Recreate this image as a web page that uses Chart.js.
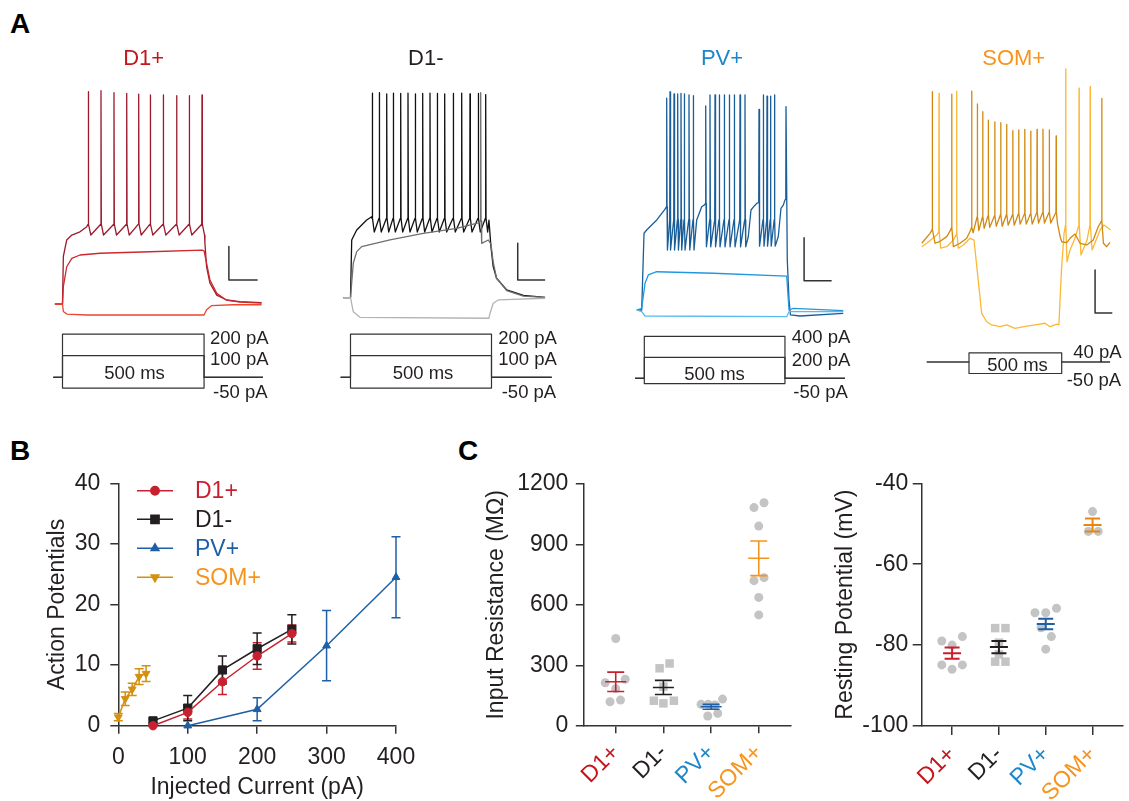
<!DOCTYPE html>
<html>
<head>
<meta charset="utf-8">
<script src="https://cdn.jsdelivr.net/npm/chart.js@4.4.1/dist/chart.umd.min.js"></script>
<style>
  html, body { margin: 0; padding: 0; background: #fff; }
  #fig { position: relative; width: 1129px; height: 801px; overflow: hidden;
         font-family: 'Liberation Sans', Arial, Helvetica, sans-serif; color: #231f20; }
  #fig canvas { position: absolute; }
  .t { position: absolute; white-space: nowrap; line-height: 1; transform: translateY(-50%); }
  .c { transform: translate(-50%, -50%); }
  .panel { font-weight: bold; font-size: 28px; color: #000; }
  .title { font-size: 22px; }
  .prot { font-size: 18.5px; }
</style>
</head>
<body>
<div id="fig">
  <canvas id="trD1p" width="235" height="340" style="left:45px;top:60px"></canvas>
  <canvas id="trD1n" width="235" height="340" style="left:330px;top:60px"></canvas>
  <canvas id="trPV" width="230" height="340" style="left:625px;top:60px"></canvas>
  <canvas id="trSOM" width="205" height="340" style="left:915px;top:60px"></canvas>
  <canvas id="chartB" width="420" height="331" style="left:0px;top:470px"></canvas>
  <canvas id="chartIR" width="330" height="331" style="left:470px;top:470px"></canvas>
  <canvas id="chartRP" width="349" height="331" style="left:780px;top:470px"></canvas>

  <div class="t panel" style="left:10px;top:23.5px">A</div>
  <div class="t panel" style="left:10px;top:451px">B</div>
  <div class="t panel" style="left:458px;top:451px">C</div>

  <div class="t c title" style="left:143.7px;top:57.5px;color:#c4161c">D1+</div>
  <div class="t c title" style="left:425.8px;top:57.5px;color:#231f20">D1-</div>
  <div class="t c title" style="left:722px;top:57.5px;color:#1b87c9">PV+</div>
  <div class="t c title" style="left:1013.7px;top:57.5px;color:#f7941d">SOM+</div>

  <div class="t prot" style="left:210px;top:337.5px">200 pA</div>
  <div class="t prot" style="left:210px;top:359px">100 pA</div>
  <div class="t c prot" style="left:134.5px;top:373.3px">500 ms</div>
  <div class="t prot" style="left:213px;top:391.5px">-50 pA</div>

  <div class="t prot" style="left:498.3px;top:337.5px">200 pA</div>
  <div class="t prot" style="left:498.3px;top:359px">100 pA</div>
  <div class="t c prot" style="left:423px;top:373.3px">500 ms</div>
  <div class="t prot" style="left:501.7px;top:391.5px">-50 pA</div>

  <div class="t prot" style="left:791.7px;top:336.7px">400 pA</div>
  <div class="t prot" style="left:791.7px;top:360px">200 pA</div>
  <div class="t c prot" style="left:714.5px;top:374px">500 ms</div>
  <div class="t prot" style="left:793.3px;top:391.7px">-50 pA</div>

  <div class="t prot" style="left:1073.3px;top:351.7px">40 pA</div>
  <div class="t c prot" style="left:1017.5px;top:365px">500 ms</div>
  <div class="t prot" style="left:1066.7px;top:380px">-50 pA</div>
</div>
<script>
// Panel A: example traces, [time in ms from step onset, membrane potential in mV]
var d1pSpikeTimes = [91.5, 136.5, 182.6, 227.7, 270.2, 311.3, 357.4, 404.6, 449.6, 494.7];
var d1pSpikePeaks = [31.7, 32.3, 31.2, 30.9, 30.5, 30, 30, 29.6, 29.6, 30];
var d1pTopStart = [[-27, -80], [0, -80], [3, -55], [15, -46.3], [33, -43.7], [62, -42], [86, -39.3]];
var d1pTopEnd = [[505, -48], [511, -60.4], [523, -69.1], [547, -75.3], [582, -77.9], [629, -78.8], [706, -79.3]];
var d1pSub = [[-27, -80], [0, -80], [3, -70.9], [15, -60.4], [33, -56], [62, -54.2], [133, -53.3], [310, -52.5],
  [495, -51.6], [502, -52], [511, -58.6], [523, -67.4], [547, -74.4], [582, -78], [629, -79], [706, -79.5]];
var d1pHyp = [[-27, -80], [0, -80], [3, -83.9], [15, -85.3], [86, -85.8], [502, -85.8], [511, -83], [528, -80.9],
  [605, -80.4], [706, -80.4]];
var d1pScaleBar = [[590, -49.8], [590, -67.4], [692, -67.4]];
var d1pSteps = [-50, 100, 200];
var d1pStepTimes = [-32.6, 0, 502, 711];

var d1nSpikeTimes = [77.3, 102.1, 128.4, 151.8, 178, 203.9, 229.8, 256, 281.9, 307.8, 334, 364.5, 394.3, 423.8, 453.2, 479.4];
var d1nSpikePeaks = [30.6, 30.8, 30.2, 30.6, 30.4, 30.6, 30.2, 30.4, 30.6, 30.4, 30.2, 30.4, 30.6, 30.2, 30.4, 29.8];
var d1nTopStart = [[-25.5, -80], [0, -80], [4.3, -48.8], [22, -43.4], [57.4, -38], [75.2, -36.2]];
var d1nTopEnd = [[491, -38.1], [498, -52.4], [506, -63.2], [518, -69.5], [554, -75.8], [613, -78.7], [690, -79.8]];
var d1nSub = [[-25.5, -80], [0, -80], [9.9, -61.4], [22, -55.1], [39.7, -52.4], [140, -48.8], [258, -45.2],
  [376.6, -42.5], [453.2, -39.5], [460.7, -38.5], [461.7, 30.8], [462.9, -38.5], [465.2, -50.6], [488.7, -48.8],
  [498, -51], [506, -60.7], [518, -69.5], [554, -76.2], [613, -79.1], [690, -79.8]];
var d1nHyp = [[-25.5, -80], [0, -80], [9.9, -87.6], [33.7, -90.6], [491, -91.1], [494.7, -88.4], [506, -83],
  [524, -81.2], [690, -80.3]];
var d1nScaleBar = [[593, -50.6], [593, -70.4], [690, -70.4]];
var d1nSteps = [-50, 100, 200];
var d1nStepTimes = [-34.8, 0, 500, 713.5];

var pvBurst1Times = [86.2, 97.6, 111.4, 124.1, 135.5, 146.9, 163.1, 177.9];
var pvBurst1Peaks = [18.5, 21.5, 20.5, 20.5, 20.8, 20.5, 20, 19.7];
var pvBurst2Times = [220.7, 235.5, 252.8, 267.6, 284.8, 302.1, 319.3, 339, 356.2];
var pvBurst2Peaks = [14.9, 20, 20, 20, 20, 20, 20, 20, 20];
var pvBurst3Times = [404.5, 419.3, 432.1, 444.1, 457.9];
var pvBurst3Peaks = [13.3, 20, 19.5, 19.5, 20];
var pvTopStart = [[-17, -80], [0, -80], [8, -44.3], [17, -42.8], [52, -38.1], [80, -33.2]];
var pvGap1 = [[189.7, -38.1], [206.9, -32], [215.9, -31.2]];
var pvGap2 = [[367.6, -45.8], [376.9, -33.5], [388.3, -31.6], [396.6, -30.4]];
var pvGap3 = [[471, -45.8], [480.3, -32.7], [488.3, -31.2], [494.1, -28.8]];
var pvTopEnd = [[496.8, -28.5], [497.6, 14.6], [502, -56.7], [508, -75.3], [513, -82.3], [546, -82.8], [695, -81.6]];
var pvSub = [[-17, -80], [0, -79.2], [11.4, -67.6], [22.8, -63.7], [51.7, -62.2], [247, -62.9], [500, -64.2],
  [508, -80], [523, -79.2], [695, -80.3]];
var pvHyp = [[-17, -80], [0, -80.8], [11.4, -82.8], [500, -83.1], [508, -80.8], [695, -80.8]];
var pvScaleBar = [[560, -46.4], [560, -66.4], [655, -66.4]];
var pvSteps = [-50, 200, 400];
var pvStepTimes = [-23, 9, 494, 701];

var somSpikeTimes = [14.4, 45, 74, 104, 139, 171, 203, 236, 268, 301, 333, 367, 399, 433, 470];
var somSpikePeaks = [12.4, 6.4, 2.8, -1.1, -1.9, -2.3, -3.1, -6, -5.7, -5.4, -6.2, -5.4, -5.3, -5.7, -8.5];
var somThresholds = [-51, -46, -46, -45.5, -45.5, -45, -45, -45, -44.5, -44.5, -44.5, -44, -44, -44, -44];
var somTroughs = [-53.5, -52.5, -51.5, -51, -50.5, -50.5, -50, -50, -49.5, -49.5, -49.5, -49, -49, -49, -49.5];
var somDarkStart = [[-255, -58.4], [-210, -53.8], [-199, -52], [-198, 12.1], [-196.8, -52], [-183, -58.4],
  [-156, -57.5], [-120, -55.3], [-99, -52.2], [-94.3, -51], [-93.3, 11], [-92.1, -51], [-84.5, -60],
  [-48.5, -58.4], [-12.5, -56.1], [9, -52.2]];
var somDarkEnd = [[491.5, -55.3], [500, -57.7], [527, -58.1], [545, -56.1], [572, -54.1], [599, -58.4], [635, -59.2],
  [670, -56.9], [697, -50.7], [715, -48], [716, 9], [717.2, -48], [725, -58.4], [743, -60], [760.5, -58]];
var somLight = [[-255, -60], [-228, -58.4], [-174, -54.6], [-163, -53], [-161.8, 11.3], [-160.6, -53], [-153, -60.7],
  [-120, -60], [-84.5, -56.9], [-70, -54.6], [-67.3, -53], [-66.3, 12.4], [-65.1, -53], [-57.5, -60.7],
  [-30.6, -59.2], [5.4, -56.1], [27, -56.9], [68.5, -91], [95.5, -94.9], [122.5, -96.4], [167, -97.2],
  [203.5, -96.4], [248, -98], [311, -96.9], [374, -96.1], [410, -95.6], [437, -97.2], [473, -96], [485, -96.4],
  [491, -84.8], [500, -69.3], [512.6, -53.8], [520.6, -50], [521.6, 22.7], [522.8, -50], [528.6, -67],
  [545, -61.5], [572, -56], [592.6, -50], [593.6, 13.7], [594.8, -50], [604, -63.9], [636.5, -56.9],
  [652.3, -50], [653.3, 14.4], [654.5, -50], [664, -61.5], [707, -52.2], [728, -49.9], [764, -52.2]];
var somScaleBar = [[680, -70.8], [680, -90.8], [773, -90.8]];
var somSteps = [-50, 40];
var somStepTimes = [-228, 0, 500, 761];

// Panel B: action potentials vs injected current (mean, SEM)
var currentD1p = [50, 100, 150, 200, 250];
var apD1p = [0, 2.2, 7.25, 11.5, 15.2];
var semD1p = [0, 1.1, 2.1, 2.2, 1.4];
var currentD1n = [50, 100, 150, 200, 250];
var apD1n = [0.8, 2.9, 9.2, 12.7, 15.9];
var semD1n = [0.3, 2.1, 2.3, 2.6, 2.4];
var currentPV = [100, 200, 300, 400];
var apPV = [0, 2.7, 13.2, 24.5];
var semPV = [0, 1.9, 5.8, 6.7];
var currentSOM = [0, 10, 20, 30, 40];
var apSOM = [1.4, 4.45, 6.0, 8.1, 8.6];
var semSOM = [0.6, 1.1, 1.0, 1.3, 1.3];

// Panel C: single cells, jitter in category units
var groups = ['D1+', 'D1-', 'PV+', 'SOM+'];
var irD1p = [433, 213, 230, 184, 119, 127];
var irD1pJitter = [0, -0.22, 0.2, 0, -0.12, 0.1];
var irD1n = [285, 309, 194, 124, 124, 111];
var irD1nJitter = [-0.08, 0.13, 0, -0.2, 0.22, 0];
var irPV = [106, 106, 103, 132, 48, 61];
var irPVJitter = [-0.21, -0.06, 0.08, 0.24, -0.07, 0.14];
var irSOM = [1083, 1107, 991, 720, 735, 637, 550];
var irSOMJitter = [-0.1, 0.11, 0, -0.1, 0.11, 0, 0];
var irMean = [218, 190, 94, 831];
var irSem = [48, 35, 12, 86];

var rpD1p = [-79, -77.9, -80, -84.9, -86, -84.9];
var rpD1pJitter = [-0.22, 0.22, 0, -0.22, 0, 0.22];
var rpD1n = [-75.8, -75.8, -79.4, -82.3, -84.1, -84.1];
var rpD1nJitter = [-0.08, 0.14, 0, 0, -0.08, 0.14];
var rpPV = [-72, -72, -70.9, -75.7, -77.9, -81];
var rpPVJitter = [-0.23, 0, 0.23, -0.1, 0.12, 0];
var rpSOM = [-47, -51.9, -51.9];
var rpSOMJitter = [0, -0.09, 0.12];
var rpMean = [-82, -80.5, -74.8, -50.3];
var rpSem = [1.4, 1.5, 1.3, 1.6];

var RED = '#c8202f';
var BLACK = '#231f20';
var BLUE = '#1f5fa6';
var GOLD = '#d4900f';
var ORANGE = '#f7941d';
var AXIS = '#333333';
var GRAY_DOT = '#c4c4c4';
var FONT = "'Liberation Sans', Arial, Helvetica, sans-serif";

Chart.defaults.font.family = FONT;
Chart.defaults.color = BLACK;

function pick(v, i) {
  return Array.isArray(v) ? v[i] : v;
}

// a run of spikes: threshold, peak, repolarisation, after-hyperpolarisation trough
function spikeRun(times, peaks, thr, trough, ahp) {
  var out = [];
  times.forEach(function (t, i) {
    out.push([t - 1, pick(thr, i)], [t, peaks[i]], [t + 1.2, pick(thr, i)], [t + ahp, pick(trough, i)]);
  });
  return out;
}

// current step command: rest -> level -> rest
function stepTrace(level, tt) {
  return [[tt[0], 0], [tt[1], 0], [tt[1], level], [tt[2], level], [tt[2], 0], [tt[3], 0]];
}

function toXY(arr) {
  return arr.map(function (p) {
    return { x: p[0], y: p[1] };
  });
}

// value range of an invisible axis, from two calibration points (value, page px)
function axisRange(v0, p0, v1, p1, pa, pb) {
  var k = (v1 - v0) / (p1 - p0);
  var a = v0 + (pa - p0) * k;
  var b = v0 + (pb - p0) * k;
  return { min: Math.min(a, b), max: Math.max(a, b) };
}

function traceChart(id, cal, traces, steps, stepTimes, scaleBar) {
  var el = document.getElementById(id);
  var left = parseFloat(el.style.left);
  var top = parseFloat(el.style.top);
  var xr = axisRange(cal.t[0], cal.t[1], cal.t[2], cal.t[3], left, left + el.width);
  var yr = axisRange(cal.v[0], cal.v[1], cal.v[2], cal.v[3], top, top + el.height);
  var ir = axisRange(cal.i[0], cal.i[1], cal.i[2], cal.i[3], top, top + el.height);

  var datasets = traces.map(function (tr) {
    return { data: toXY(tr.data), borderColor: tr.color, borderWidth: 1.3, pointRadius: 0, yAxisID: 'y' };
  });
  steps.forEach(function (level) {
    datasets.push({ data: toXY(stepTrace(level, stepTimes)), borderColor: AXIS, borderWidth: 1.2,
      pointRadius: 0, yAxisID: 'yI' });
  });
  datasets.push({ data: toXY(scaleBar), borderColor: AXIS, borderWidth: 1.5, pointRadius: 0, yAxisID: 'y' });

  // eslint-disable-next-line no-new
  new Chart(el, {
    type: 'line',
    data: { datasets: datasets },
    options: {
      responsive: false,
      animation: false,
      events: [],
      layout: { padding: 0 },
      elements: { line: { tension: 0, borderJoinStyle: 'round' } },
      plugins: { legend: { display: false }, tooltip: { enabled: false } },
      scales: {
        x: { type: 'linear', display: false, min: xr.min, max: xr.max },
        y: { display: false, min: yr.min, max: yr.max },
        yI: { display: false, min: ir.min, max: ir.max },
      },
    },
  });
}

traceChart('trD1p', { t: [0, 62.5, 500, 203.5], v: [-80, 304, -60, 266], i: [0, 377.3, 100, 355.7] }, [
  { data: d1pHyp, color: '#ea4630' },
  { data: d1pSub, color: '#cc2a2c' },
  { data: d1pTopStart.concat(spikeRun(d1pSpikeTimes, d1pSpikePeaks, -38, -43.7, 9), d1pTopEnd), color: '#9c1a2e' },
], d1pSteps, d1pStepTimes, d1pScaleBar);

traceChart('trD1n', { t: [0, 350.5, 500, 491.5], v: [-80, 297.7, -60, 260.7], i: [0, 377.3, 100, 355.7] }, [
  { data: d1nHyp, color: '#b3b3b3' },
  { data: d1nSub, color: '#6f6f6f' },
  { data: d1nTopStart.concat(spikeRun(d1nSpikeTimes, d1nSpikePeaks, -37.1, -44.5, 7), d1nTopEnd), color: '#111111' },
], d1nSteps, d1nStepTimes, d1nScaleBar);

traceChart('trPV', { t: [0, 641.7, 500, 786.7], v: [-80, 310, -60, 267], i: [0, 378.3, 400, 336.3] }, [
  { data: pvHyp, color: '#5ab9ee' },
  { data: pvSub, color: '#1f98df' },
  {
    data: pvTopStart.concat(
      spikeRun(pvBurst1Times, pvBurst1Peaks, [-32, -38, -38, -38, -38, -38, -38, -38], -52.1, 2.5),
      pvGap1,
      spikeRun(pvBurst2Times, pvBurst2Peaks, [-30.5, -38, -38, -38, -38, -38, -38, -38, -38], -50.6, 2.5),
      pvGap2,
      spikeRun(pvBurst3Times, pvBurst3Peaks, [-30, -38, -38, -38, -38], -50.3, 2.5),
      pvGap3,
      pvTopEnd
    ),
    color: '#1a5e99',
  },
], pvSteps, pvStepTimes, pvScaleBar);

traceChart('trSOM', { t: [0, 969, 500, 1061.7], v: [-60, 246.7, -40, 203.7], i: [40, 352.8, -50, 373.5] }, [
  { data: somDarkStart.concat(spikeRun(somSpikeTimes, somSpikePeaks, somThresholds, somTroughs, 8), somDarkEnd),
    color: '#d1890f' },
  { data: somLight, color: '#fbb836' },
], somSteps, somStepTimes, somScaleBar);

// error bars drawn through the chart's own scales
var errorBars = {
  id: 'errorBars',
  beforeDatasetsDraw: function (chart) {
    var ctx = chart.ctx;
    var xs = chart.scales.x;
    var ys = chart.scales.y;
    chart.data.datasets.forEach(function (ds) {
      if (!ds.errors) return;
      ctx.save();
      ctx.strokeStyle = ds.borderColor;
      ctx.lineWidth = 1.5;
      ds.data.forEach(function (pt, i) {
        var e = ds.errors[i];
        if (!e) return;
        var x = xs.getPixelForValue(pt.x);
        var y1 = ys.getPixelForValue(pt.y - e);
        var y2 = ys.getPixelForValue(pt.y + e);
        ctx.beginPath();
        ctx.moveTo(x, y1);
        ctx.lineTo(x, y2);
        ctx.moveTo(x - 4.5, y1);
        ctx.lineTo(x + 4.5, y1);
        ctx.moveTo(x - 4.5, y2);
        ctx.lineTo(x + 4.5, y2);
        ctx.stroke();
      });
      ctx.restore();
    });
  },
};

// line + marker legend, as in the original figure
var lineLegend = {
  id: 'lineLegend',
  afterDraw: function (chart, args, o) {
    var ctx = chart.ctx;
    chart.data.datasets.forEach(function (ds, i) {
      var y = o.rows[i];
      ctx.save();
      ctx.strokeStyle = ds.borderColor;
      ctx.fillStyle = ds.borderColor;
      ctx.lineWidth = 1.5;
      ctx.beginPath();
      ctx.moveTo(o.lineX[0], y);
      ctx.lineTo(o.lineX[1], y);
      ctx.stroke();
      Chart.helpers.drawPoint(ctx, { pointStyle: ds.pointStyle, rotation: ds.pointRotation || 0,
        radius: ds.pointRadius, borderWidth: 1 }, (o.lineX[0] + o.lineX[1]) / 2, y);
      ctx.fillStyle = o.textColors[i];
      ctx.font = '23px ' + FONT;
      ctx.textBaseline = 'middle';
      ctx.textAlign = 'left';
      ctx.fillText(ds.label, o.textX, y + 1);
      ctx.restore();
    });
  },
};

function curve(label, xs, ys, errs, color, style, radius, rotation) {
  return {
    label: label,
    data: xs.map(function (x, i) {
      return { x: x, y: ys[i] };
    }),
    errors: errs,
    borderColor: color,
    backgroundColor: color,
    borderWidth: 1.5,
    pointStyle: style,
    pointRadius: radius,
    pointRotation: rotation || 0,
    pointBorderWidth: 1,
    clip: false,
  };
}

function axisOpts(extra) {
  return Object.assign({
    grid: { drawOnChartArea: false, drawTicks: true, color: AXIS, lineWidth: 1.5 },
    border: { display: true, color: AXIS, width: 1.5 },
  }, extra);
}

// fixed axis boxes: no automatic room for half-labels at the axis ends
function fixHeight(h) {
  return function (s) {
    s.height = h;
    s.paddingLeft = 0;
    s.paddingRight = 0;
  };
}
function fixWidth(w) {
  return function (s) {
    s.width = w;
    s.paddingTop = 0;
    s.paddingBottom = 0;
  };
}
function plainNumber(v) {
  return String(v);
}

// eslint-disable-next-line no-new
new Chart(document.getElementById('chartB'), {
  type: 'line',
  data: {
    datasets: [
      curve('D1+', currentD1p, apD1p, semD1p, RED, 'circle', 4.2),
      curve('D1-', currentD1n, apD1n, semD1n, BLACK, 'rect', 5.8),
      curve('PV+', currentPV, apPV, semPV, BLUE, 'triangle', 4.5),
      curve('SOM+', currentSOM, apSOM, semSOM, GOLD, 'triangle', 4.5, 180),
    ],
  },
  plugins: [errorBars, lineLegend],
  options: {
    responsive: false,
    animation: false,
    events: [],
    layout: { padding: { top: 13.3, right: 24, left: 0, bottom: 0 } },
    plugins: {
      legend: { display: false },
      tooltip: { enabled: false },
      lineLegend: { rows: [20.7, 49.3, 78.3, 107.3], lineX: [137, 173], textX: 195,
        textColors: [RED, BLACK, BLUE, ORANGE] },
    },
    scales: {
      x: axisOpts({
        type: 'linear', min: 0, max: 400,
        afterFit: fixHeight(75.3),
        ticks: { stepSize: 100, maxRotation: 0, padding: 10, color: BLACK, font: { size: 23 }, callback: plainNumber },
        grid: { drawOnChartArea: false, color: AXIS, lineWidth: 1.5, tickLength: 8 },
        title: { display: true, text: 'Injected Current (pA)', color: BLACK, font: { size: 23 },
          padding: { top: 0, bottom: 0 } },
      }),
      y: axisOpts({
        min: 0, max: 40,
        afterFit: fixWidth(118.3),
        ticks: { stepSize: 10, padding: 10, color: BLACK, font: { size: 23 }, callback: plainNumber },
        grid: { drawOnChartArea: false, color: AXIS, lineWidth: 1.5, tickLength: 8 },
        title: { display: true, text: 'Action Potentials', color: BLACK, font: { size: 23 },
          padding: { top: 44, bottom: 0 } },
      }),
    },
  },
});

// group mean +/- SEM
var meanSem = {
  id: 'meanSem',
  afterDatasetsDraw: function (chart, args, o) {
    var ctx = chart.ctx;
    var xs = chart.scales.x;
    var ys = chart.scales.y;
    o.means.forEach(function (m, i) {
      var x = xs.getPixelForValue(i + 1);
      var yM = ys.getPixelForValue(m);
      var yT = ys.getPixelForValue(m + o.sems[i]);
      var yB = ys.getPixelForValue(m - o.sems[i]);
      ctx.save();
      ctx.strokeStyle = o.colors[i];
      ctx.lineWidth = o.lineWidth;
      ctx.beginPath();
      ctx.moveTo(x - o.meanHalf, yM);
      ctx.lineTo(x + o.meanHalf, yM);
      ctx.moveTo(x, yT);
      ctx.lineTo(x, yB);
      ctx.moveTo(x - o.capHalf, yT);
      ctx.lineTo(x + o.capHalf, yT);
      ctx.moveTo(x - o.capHalf, yB);
      ctx.lineTo(x + o.capHalf, yB);
      ctx.stroke();
      ctx.restore();
    });
  },
};

var labelColors = ['#c4161c', BLACK, '#1b87c9', ORANGE];

function cells(values, jitter, idx, style) {
  return {
    data: values.map(function (v, i) {
      return { x: idx + jitter[i], y: v };
    }),
    backgroundColor: GRAY_DOT,
    borderColor: GRAY_DOT,
    pointStyle: style,
    pointRadius: style === 'rect' ? 6 : 4.5,
    pointBorderWidth: 0,
    clip: false,
  };
}

function dotChart(id, sets, yOpts, geom, stats) {
  // eslint-disable-next-line no-new
  new Chart(document.getElementById(id), {
    type: 'scatter',
    data: { datasets: sets },
    plugins: [meanSem],
    options: {
      responsive: false,
      animation: false,
      events: [],
      layout: { padding: { top: geom.top, right: geom.right, left: 0, bottom: 0 } },
      plugins: { legend: { display: false }, tooltip: { enabled: false }, meanSem: stats },
      scales: {
        x: axisOpts({
          type: 'linear', min: geom.xMin, max: geom.xMax,
          afterFit: fixHeight(geom.xHeight),
          afterBuildTicks: function (s) {
            s.ticks = groups.map(function (g, i) { return { value: i + 1 }; });
          },
          ticks: {
            autoSkip: false, minRotation: 45, maxRotation: 45, padding: geom.xPad,
            font: { size: 23 },
            color: function (c) { return labelColors[c.index]; },
            callback: function (v, i) { return groups[i]; },
          },
          grid: { drawOnChartArea: false, color: AXIS, lineWidth: 1.5, tickLength: geom.tick },
        }),
        y: axisOpts({
          min: yOpts.min, max: yOpts.max,
          afterFit: fixWidth(geom.yWidth),
          ticks: { stepSize: yOpts.step, padding: geom.yPad, color: BLACK, font: { size: 23 }, callback: plainNumber },
          grid: { drawOnChartArea: false, color: AXIS, lineWidth: 1.5, tickLength: geom.tick },
          title: { display: true, text: yOpts.title, color: BLACK, font: { size: 23 },
            padding: { top: geom.titlePad, bottom: 0 } },
        }),
      },
    },
  });
}

dotChart('chartIR', [
  cells(irD1p, irD1pJitter, 1, 'circle'),
  cells(irD1n, irD1nJitter, 2, 'rect'),
  cells(irPV, irPVJitter, 3, 'circle'),
  cells(irSOM, irSOMJitter, 4, 'circle'),
], { min: 0, max: 1200, step: 300, title: 'Input Resistance (M\u03A9)' },
{ top: 14, right: 9.3, yWidth: 113.3, xHeight: 75.3, xMin: 0.32, xMax: 4.67, tick: 7.5, yPad: 7.5, xPad: 6,
  titlePad: 13 },
{ means: irMean, sems: irSem, colors: [RED, BLACK, BLUE, ORANGE], meanHalf: 10.5, capHalf: 8.5, lineWidth: 1.6 });

dotChart('chartRP', [
  cells(rpD1p, rpD1pJitter, 1, 'circle'),
  cells(rpD1n, rpD1nJitter, 2, 'rect'),
  cells(rpPV, rpPVJitter, 3, 'circle'),
  cells(rpSOM, rpSOMJitter, 4, 'circle'),
], { min: -100, max: -40, step: 20, title: 'Resting Potential (mV)' },
{ top: 13.3, right: 2, yWidth: 141.7, xHeight: 75, xMin: 0.351, xMax: 4.65, tick: 9, yPad: 4.4, xPad: 6,
  titlePad: 51.5 },
{ means: rpMean, sems: rpSem, colors: [RED, BLACK, BLUE, '#e8860f'], meanHalf: 9, capHalf: 7.5, lineWidth: 2 });
</script>
</body>
</html>
